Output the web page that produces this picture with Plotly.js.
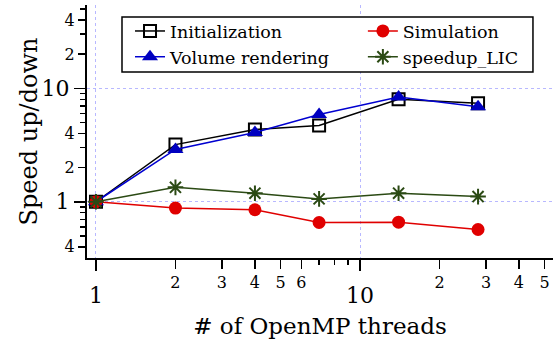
<!DOCTYPE html>
<html>
<head>
<meta charset="utf-8">
<script src="https://cdn.plot.ly/plotly-3.0.1.min.js"></script>
<style>html,body{margin:0;padding:0;background:#fff;}</style>
</head>
<body>
<div id="chart" style="width:553px;height:342px;"></div>
<script>
// Data
const threads = [1, 2, 4, 7, 14, 28];
const initialization = [1, 3.19, 4.34, 4.7, 8.0, 7.4];
const simulation = [1, 0.879, 0.85, 0.656, 0.66, 0.569];
const volumeRendering = [1, 2.89, 4.08, 5.89, 8.37, 6.89];
const speedupLIC = [1, 1.34, 1.19, 1.06, 1.19, 1.11];

// Ticks
const xMajorVals = [1, 10];
const xMajorText = ['1', '10'];
const xMinorVals = [2, 3, 4, 5, 6, 20, 30, 40, 50];
const xMinorText = ['2', '3', '4', '5', '6', '2', '3', '4', '5'];
const xSmallVals = [7, 8, 9];
const yMajorVals = [1, 10];
const yMajorText = ['1', '10'];
const yMinorVals = [0.4, 2, 4, 20, 40];
const yMinorText = ['4', '2', '4', '2', '4'];
const ySmallVals = [0.5, 0.6, 0.7, 0.8, 0.9, 3, 5, 6, 7, 8, 9, 30, 50];

const FONT = '"DejaVu Serif", serif';
const xRange = [-0.034, 1.731];
const yRange = [-0.496, 1.735];

const traces = [
  {x: threads, y: initialization, name: 'Initialization', mode: 'lines+markers', legend: 'legend',
   line: {color: '#000000', width: 1.5},
   marker: {symbol: 'square-open', size: 12, color: '#000000', line: {width: 2}}},
  {x: threads, y: volumeRendering, name: 'Volume rendering', mode: 'lines+markers', legend: 'legend',
   line: {color: '#0000d0', width: 1.5},
   marker: {symbol: 'triangle-up', size: 14, color: '#0000c0'}},
  {x: threads, y: simulation, name: 'Simulation', mode: 'lines+markers', legend: 'legend2',
   line: {color: '#e00000', width: 1.5},
   marker: {symbol: 'circle', size: 13, color: '#e00000'}},
  {x: threads, y: speedupLIC, name: 'speedup_LIC', mode: 'lines+markers', legend: 'legend2',
   line: {color: '#2b4a14', width: 1.5},
   marker: {symbol: 'asterisk-open', size: 13, color: '#2b4a14', line: {width: 2, color: '#2b4a14'}}},
  {x: [], y: [], xaxis: 'x2', yaxis: 'y2', showlegend: false, hoverinfo: 'skip'}
];

const legendCommon = {
  orientation: 'v', xanchor: 'left', yanchor: 'top', y: 0.968,
  font: {family: FONT, size: 17.5, color: '#000'},
  bgcolor: 'rgba(0,0,0,0)', borderwidth: 0, tracegroupgap: 0
};

const layout = {
  width: 553, height: 342,
  margin: {l: 87, r: 0, t: 5, b: 84},
  paper_bgcolor: '#ffffff', plot_bgcolor: '#ffffff',
  font: {family: FONT, color: '#000000'},
  showlegend: true,
  legend: Object.assign({}, legendCommon, {x: 0.0923}),
  legend2: Object.assign({}, legendCommon, {x: 0.592}),
  shapes: [{
    type: 'rect', xref: 'paper', yref: 'paper',
    x0: 0.0751, x1: 0.957, y0: 0.735, y1: 0.953,
    fillcolor: '#ffffff', line: {color: '#000000', width: 1.5}, layer: 'above'
  }],
  xaxis: {
    type: 'log', range: xRange,
    showline: true, linecolor: '#000', linewidth: 2,
    showgrid: false, zeroline: false,
    ticks: 'outside', ticklen: 9, tickwidth: 1.5, tickcolor: '#000',
    tickmode: 'array', tickvals: xMinorVals, ticktext: xMinorText,
    tickfont: {family: FONT, size: 16},
    minor: {tickmode: 'array', tickvals: xSmallVals, ticks: 'outside', ticklen: 5, tickwidth: 1.5, tickcolor: '#000', showgrid: false},
    title: {text: '# of OpenMP threads', font: {family: FONT, size: 23}, standoff: 27}
  },
  xaxis2: {
    type: 'log', range: xRange, overlaying: 'x', anchor: 'y', side: 'bottom',
    showline: false, zeroline: false,
    showgrid: true, gridcolor: '#b8b8ff', griddash: 'dot', gridwidth: 1,
    ticks: 'outside', ticklen: 12, tickwidth: 1.5, tickcolor: '#000',
    tickmode: 'array', tickvals: xMajorVals, ticktext: xMajorText,
    tickfont: {family: FONT, size: 22}, ticklabelstandoff: 6
  },
  yaxis: {
    type: 'log', range: yRange,
    showline: true, linecolor: '#000', linewidth: 2,
    showgrid: false, zeroline: false,
    ticks: 'outside', ticklen: 7, tickwidth: 1.5, tickcolor: '#000',
    tickmode: 'array', tickvals: yMinorVals, ticktext: yMinorText,
    tickfont: {family: FONT, size: 16},
    minor: {tickmode: 'array', tickvals: ySmallVals, ticks: 'outside', ticklen: 5, tickwidth: 1.5, tickcolor: '#000', showgrid: false},
    title: {text: 'Speed up/down', font: {family: FONT, size: 24}, standoff: 20}
  },
  yaxis2: {
    type: 'log', range: yRange, overlaying: 'y', anchor: 'x', side: 'left',
    showline: false, zeroline: false,
    showgrid: true, gridcolor: '#b8b8ff', griddash: 'dot', gridwidth: 1,
    ticks: 'outside', ticklen: 12, tickwidth: 1.5, tickcolor: '#000',
    tickmode: 'array', tickvals: yMajorVals, ticktext: yMajorText,
    tickfont: {family: FONT, size: 22}
  }
};

Plotly.newPlot('chart', traces, layout, {displayModeBar: false, staticPlot: true});
</script>
</body>
</html>
